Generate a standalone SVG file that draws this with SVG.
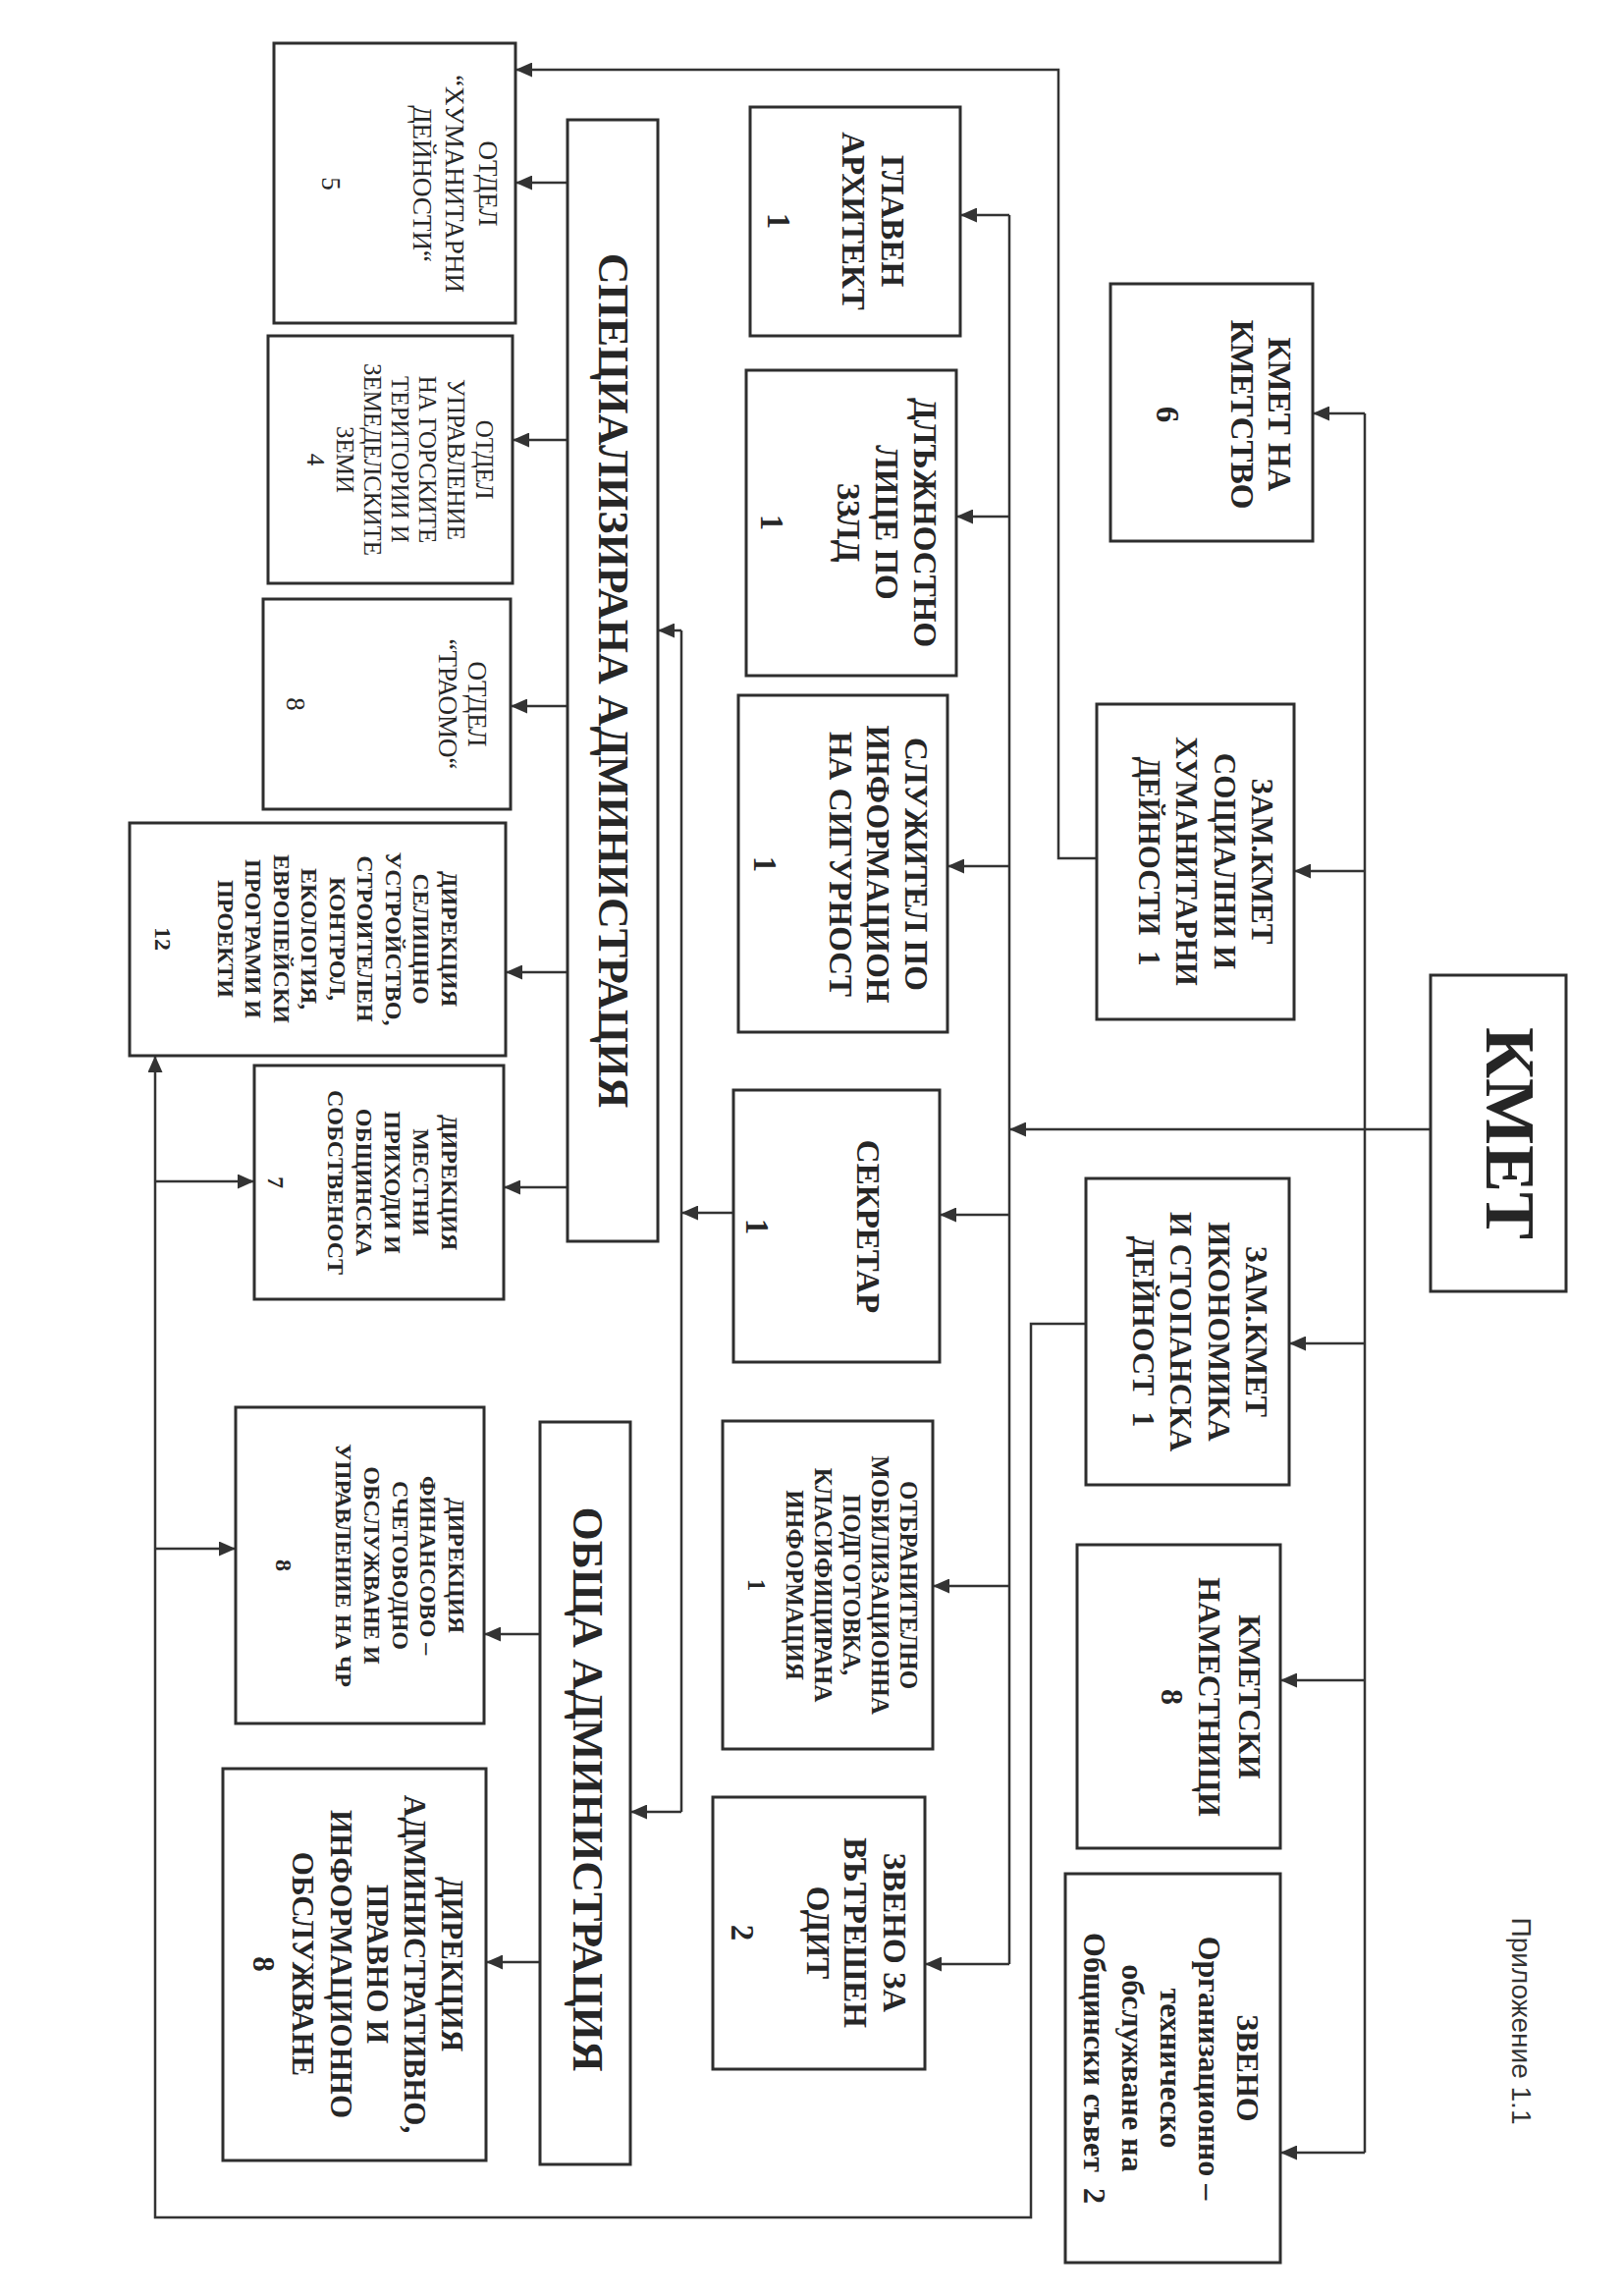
<svg xmlns="http://www.w3.org/2000/svg" width="1653" height="2338" viewBox="0 0 1653 2338">
<style>
.box{fill:#fff;stroke:#2e2e2e;stroke-width:3}
.b{font-family:"Liberation Serif","Times New Roman",serif;font-weight:bold;fill:#262626}
.r{font-family:"Liberation Serif","Times New Roman",serif;font-weight:normal;fill:#262626}
.s{font-family:"Liberation Sans",Arial,sans-serif;font-weight:normal;fill:#333}
.ln{fill:none;stroke:#333;stroke-width:2.5}
.ar{fill:none;stroke:#333;stroke-width:2.5;marker-end:url(#ah)}
</style>
<defs>
<marker id="ah" markerWidth="17" markerHeight="15" refX="17" refY="7.5" orient="auto" markerUnits="userSpaceOnUse">
<path d="M0,0 L17,7.5 L0,15 z" fill="#333"/>
</marker>
</defs>
<rect width="1653" height="2338" fill="#fff"/>

<g id="connectors">
<path class="ar" d="M1457,1150 L1028,1150"/>
<path class="ln" d="M1028,219 L1028,2000"/>
<path class="ar" d="M1028,219 L978,219"/>
<path class="ar" d="M1028,526 L974,526"/>
<path class="ar" d="M1028,882 L965,882"/>
<path class="ar" d="M1028,1237 L957,1237"/>
<path class="ar" d="M1028,1615 L950,1615"/>
<path class="ar" d="M1028,2000 L942,2000"/>
<path class="ln" d="M1390,421 L1390,2192"/>
<path class="ar" d="M1390,421 L1337,421"/>
<path class="ar" d="M1390,887 L1318,887"/>
<path class="ar" d="M1390,1368 L1313,1368"/>
<path class="ar" d="M1390,1711 L1304,1711"/>
<path class="ar" d="M1390,2192 L1304,2192"/>
<path class="ar" d="M1117,874 L1078,874 L1078,71 L525,71"/>
<path class="ar" d="M1106,1348 L1050,1348 L1050,2258 L158,2258 L158,1075"/>
<path class="ar" d="M158,1203 L259,1203"/>
<path class="ar" d="M158,1577 L240,1577"/>
<path class="ar" d="M747,1235 L694,1235"/>
<path class="ln" d="M694,642 L694,1845"/>
<path class="ar" d="M694,642 L670,642"/>
<path class="ar" d="M694,1845 L642,1845"/>
<path class="ar" d="M578,186 L525,186"/>
<path class="ar" d="M578,448 L522,448"/>
<path class="ar" d="M578,719 L520,719"/>
<path class="ar" d="M578,990 L515,990"/>
<path class="ar" d="M578,1209 L513,1209"/>
<path class="ar" d="M550,1664 L493,1664"/>
<path class="ar" d="M550,1998 L495,1998"/>
</g>

<g id="kmet">
<rect class="box" x="1457" y="993" width="138" height="322"/>
<text class="b" font-size="72" text-anchor="middle" transform="translate(1514,1154) rotate(90)">КМЕТ</text>
</g>

<g id="kmet-na-kmetstvo">
<rect class="box" x="1131" y="289" width="206" height="262"/>
<text class="b" font-size="33" text-anchor="middle" transform="translate(1292,422) rotate(90)"><tspan x="0" y="0">КМЕТ НА</tspan><tspan x="0" y="38">КМЕТСТВО</tspan><tspan x="0" y="114">6</tspan></text>
</g>

<g id="zam-kmet-soc">
<rect class="box" x="1117" y="717" width="201" height="321"/>
<text class="b" font-size="31" text-anchor="middle" transform="translate(1275,877) rotate(90)"><tspan x="0" y="0">ЗАМ.КМЕТ</tspan><tspan x="0" y="38">СОЦИАЛНИ И</tspan><tspan x="0" y="77">ХУМАНИТАРНИ</tspan><tspan x="0" y="115">ДЕЙНОСТИ&#160; 1</tspan></text>
</g>

<g id="zam-kmet-ik">
<rect class="box" x="1106" y="1200" width="207" height="312"/>
<text class="b" font-size="32" text-anchor="middle" transform="translate(1269,1356) rotate(90)"><tspan x="0" y="0">ЗАМ.КМЕТ</tspan><tspan x="0" y="38">ИКОНОМИКА</tspan><tspan x="0" y="77">И СТОПАНСКА</tspan><tspan x="0" y="115">ДЕЙНОСТ&#160; 1</tspan></text>
</g>

<g id="kmetski-namestnici">
<rect class="box" x="1097" y="1573" width="207" height="309"/>
<text class="b" font-size="32" text-anchor="middle" transform="translate(1262,1728) rotate(90)"><tspan x="0" y="0">КМЕТСКИ</tspan><tspan x="0" y="41">НАМЕСТНИЦИ</tspan><tspan x="0" y="79">8</tspan></text>
</g>

<g id="zveno-os">
<rect class="box" x="1085" y="1908" width="219" height="396"/>
<text class="b" font-size="32" text-anchor="middle" transform="translate(1260,2106) rotate(90)"><tspan x="0" y="0">ЗВЕНО</tspan><tspan x="0" y="39">Организационно –</tspan><tspan x="0" y="78">техническо</tspan><tspan x="0" y="117">обслужване на</tspan><tspan x="0" y="156">Общински съвет&#160; 2</tspan></text>
</g>

<g id="glaven-arhitekt">
<rect class="box" x="764" y="109" width="214" height="233"/>
<text class="b" font-size="33" text-anchor="middle" transform="translate(898,225) rotate(90)"><tspan x="0" y="0">ГЛАВЕН</tspan><tspan x="0" y="40">АРХИТЕКТ</tspan><tspan x="0" y="116">1</tspan></text>
</g>

<g id="dlazhnostno-lice">
<rect class="box" x="760" y="377" width="214" height="311"/>
<text class="b" font-size="33" text-anchor="middle" transform="translate(931,532) rotate(90)"><tspan x="0" y="0">ДЛЪЖНОСТНО</tspan><tspan x="0" y="39">ЛИЦЕ ПО</tspan><tspan x="0" y="78">ЗЗЛД</tspan><tspan x="0" y="156">1</tspan></text>
</g>

<g id="sluzhitel">
<rect class="box" x="752" y="708" width="213" height="343"/>
<text class="b" font-size="33" text-anchor="middle" transform="translate(922,880) rotate(90)"><tspan x="0" y="0">СЛУЖИТЕЛ ПО</tspan><tspan x="0" y="39">ИНФОРМАЦИОН</tspan><tspan x="0" y="77">НА СИГУРНОСТ</tspan><tspan x="0" y="154">1</tspan></text>
</g>

<g id="sekretar">
<rect class="box" x="747" y="1110" width="210" height="277"/>
<text class="b" font-size="33" text-anchor="middle" transform="translate(873,1249) rotate(90)"><tspan x="0" y="0">СЕКРЕТАР</tspan><tspan x="0" y="113">1</tspan></text>
</g>

<g id="otbranitelno">
<rect class="box" x="736" y="1447" width="214" height="334"/>
<text class="b" font-size="25" text-anchor="middle" transform="translate(917,1614) rotate(90)"><tspan x="0" y="0">ОТБРАНИТЕЛНО</tspan><tspan x="0" y="29">МОБИЛИЗАЦИОННА</tspan><tspan x="0" y="58">ПОДГОТОВКА,</tspan><tspan x="0" y="87">КЛАСИФИЦИРАНА</tspan><tspan x="0" y="116">ИНФОРМАЦИЯ</tspan><tspan x="0" y="155">1</tspan></text>
</g>

<g id="zveno-odit">
<rect class="box" x="726" y="1830" width="216" height="277"/>
<text class="b" font-size="33" text-anchor="middle" transform="translate(900,1968) rotate(90)"><tspan x="0" y="0">ЗВЕНО ЗА</tspan><tspan x="0" y="40">ВЪТРЕШЕН</tspan><tspan x="0" y="78">ОДИТ</tspan><tspan x="0" y="155">2</tspan></text>
</g>

<g id="spec-admin">
<rect class="box" x="578" y="122" width="92" height="1142"/>
<text class="b" font-size="44" text-anchor="middle" transform="translate(610,693) rotate(90)">СПЕЦИАЛИЗИРАНА АДМИНИСТРАЦИЯ</text>
</g>

<g id="obshta-admin">
<rect class="box" x="550" y="1448" width="92" height="756"/>
<text class="b" font-size="44" text-anchor="middle" transform="translate(584,1822) rotate(90)">ОБЩА АДМИНИСТРАЦИЯ</text>
</g>

<g id="otdel-humanitarni">
<rect class="box" x="279" y="44" width="246" height="285"/>
<text class="r" font-size="27" text-anchor="middle" transform="translate(488,187) rotate(90)"><tspan x="0" y="0">ОТДЕЛ</tspan><tspan x="0" y="34">“ХУМАНИТАРНИ</tspan><tspan x="0" y="67">ДЕЙНОСТИ“</tspan><tspan x="0" y="160">5</tspan></text>
</g>

<g id="otdel-gorski">
<rect class="box" x="273" y="342" width="249" height="252"/>
<text class="r" font-size="25" text-anchor="middle" transform="translate(485,468) rotate(90)"><tspan x="0" y="0">ОТДЕЛ</tspan><tspan x="0" y="29">УПРАВЛЕНИЕ</tspan><tspan x="0" y="58">НА ГОРСКИТЕ</tspan><tspan x="0" y="86">ТЕРИТОРИИ И</tspan><tspan x="0" y="114">ЗЕМЕДЕЛСКИТЕ</tspan><tspan x="0" y="142">ЗЕМИ</tspan><tspan x="0" y="172">4</tspan></text>
</g>

<g id="otdel-traomo">
<rect class="box" x="268" y="610" width="252" height="214"/>
<text class="r" font-size="27" text-anchor="middle" transform="translate(477,717) rotate(90)"><tspan x="0" y="0">ОТДЕЛ</tspan><tspan x="0" y="30">“ТРАОМО“</tspan><tspan x="0" y="185">8</tspan></text>
</g>

<g id="direkcia-selishtno">
<rect class="box" x="132" y="838" width="383" height="237"/>
<text class="b" font-size="24" text-anchor="middle" transform="translate(450,956) rotate(90)"><tspan x="0" y="0">ДИРЕКЦИЯ</tspan><tspan x="0" y="29">СЕЛИЩНО</tspan><tspan x="0" y="57">УСТРОЙСТВО,</tspan><tspan x="0" y="86">СТРОИТЕЛЕН</tspan><tspan x="0" y="114">КОНТРОЛ,</tspan><tspan x="0" y="143">ЕКОЛОГИЯ,</tspan><tspan x="0" y="171">ЕВРОПЕЙСКИ</tspan><tspan x="0" y="200">ПРОГРАМИ И</tspan><tspan x="0" y="228">ПРОЕКТИ</tspan><tspan x="0" y="292">12</tspan></text>
</g>

<g id="direkcia-mestni">
<rect class="box" x="259" y="1085" width="254" height="238"/>
<text class="b" font-size="24" text-anchor="middle" transform="translate(450,1204) rotate(90)"><tspan x="0" y="0">ДИРЕКЦИЯ</tspan><tspan x="0" y="29">МЕСТНИ</tspan><tspan x="0" y="58">ПРИХОДИ И</tspan><tspan x="0" y="87">ОБЩИНСКА</tspan><tspan x="0" y="116">СОБСТВЕНОСТ</tspan><tspan x="0" y="177">7</tspan></text>
</g>

<g id="direkcia-finansovo">
<rect class="box" x="240" y="1433" width="253" height="322"/>
<text class="b" font-size="24" text-anchor="middle" transform="translate(457,1594) rotate(90)"><tspan x="0" y="0">ДИРЕКЦИЯ</tspan><tspan x="0" y="29">ФИНАНСОВО –</tspan><tspan x="0" y="57">СЧЕТОВОДНО</tspan><tspan x="0" y="86">ОБСЛУЖВАНЕ И</tspan><tspan x="0" y="115">УПРАВЛЕНИЕ НА ЧР</tspan><tspan x="0" y="176">8</tspan></text>
</g>

<g id="direkcia-administrativno">
<rect class="box" x="227" y="1801" width="268" height="399"/>
<text class="b" font-size="31" text-anchor="middle" transform="translate(450,2000) rotate(90)"><tspan x="0" y="0">ДИРЕКЦИЯ</tspan><tspan x="0" y="38">АДМИНИСТРАТИВНО,</tspan><tspan x="0" y="76">ПРАВНО И</tspan><tspan x="0" y="113">ИНФОРМАЦИОННО</tspan><tspan x="0" y="152">ОБСЛУЖВАНЕ</tspan><tspan x="0" y="192">8</tspan></text>
</g>

<g id="prilozhenie">
<text class="s" font-size="28" text-anchor="middle" transform="translate(1540,2058) rotate(90)">Приложение 1.1</text>
</g>
</svg>
